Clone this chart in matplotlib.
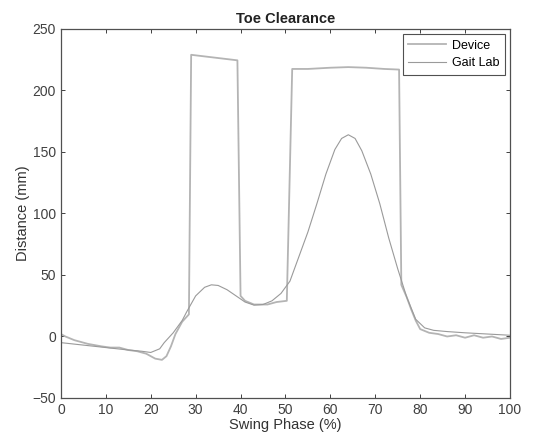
import matplotlib
matplotlib.use("Agg")
import matplotlib.pyplot as plt

# swing phase (%) and toe clearance (mm)
device_x = [0, 1, 3, 6, 9, 11, 13, 15, 17, 19, 20, 21, 22.5, 23.5, 24.5, 25.5, 27, 28.5,
            29, 39.3, 40, 41, 43, 44, 46, 48, 50.3, 51.5, 55, 60, 64, 68, 72, 75.3,
            75.8, 77, 78, 79, 80, 82, 84, 86, 88, 90, 92, 94, 96, 98, 100]
device_y = [2, 0, -3, -6, -8, -9, -9, -11, -12, -14, -16, -18, -19, -16, -8, 2, 12, 18,
            229, 224.5, 33, 29, 26, 26, 26, 28, 29, 217.5, 217.5, 218.5, 219, 218.5, 217.5, 217,
            42, 32, 22, 13, 6, 3, 2, 0, 1, -1, 1, -1, 0, -2, -1]

gait_x = [0, 5, 10, 15, 18, 20, 22, 23, 25, 27, 28, 30, 32, 33.5, 35, 37, 39, 41, 43, 45,
          47, 49, 51, 53, 55, 57, 59, 61, 62.5, 64, 65.5, 67, 69, 71, 73, 75, 77, 79,
          81, 83, 86, 90, 95, 100]
gait_y = [-5, -7, -9, -11, -12, -13, -10, -5, 3, 13, 20, 33, 40, 42, 41.5, 38, 33, 28, 25.5, 26,
          29, 35, 45, 65, 85, 108, 132, 152, 161, 164, 161, 151, 132, 108, 80, 55, 32, 14,
          7, 5, 4, 3, 2, 1]

xticks = list(range(0, 101, 10))
yticks = list(range(-50, 251, 50))

plt.rcParams['font.family'] = ['Liberation Sans', 'DejaVu Sans']
fig = plt.figure(figsize=(5.44, 4.43), dpi=100)
ax = fig.add_axes([0.112, 0.1016, 0.8255, 0.833])

ax.plot(device_x, device_y, color='#b4b4b4', lw=1.3, label='Device')
ax.plot(gait_x, gait_y, color='#9a9a9a', lw=0.8, label='Gait Lab')

ax.set_xlim(0, 100)
ax.set_ylim(-50, 250)
ax.set_xticks(xticks)
ax.set_yticks(yticks)
ax.tick_params(direction='in', length=3, top=True, right=True, labelsize=10,
               colors='#404040', width=0.7)
for s in ax.spines.values():
    s.set_color('#505050')
    s.set_linewidth(0.9)

ax.set_title('Toe Clearance', fontsize=10.5, fontweight='bold', color='#222222', pad=4)
ax.set_xlabel('Swing Phase (%)', fontsize=10.5, color='#333333', labelpad=1)
ax.set_ylabel('Distance (mm)', fontsize=10.5, color='#333333', labelpad=2)

leg = ax.legend(loc='upper right', fontsize=9, handlelength=3.0, fancybox=False,
                framealpha=1, edgecolor='#505050', borderpad=0.45, labelspacing=0.45,
                handletextpad=0.5, borderaxespad=0.4)
leg.get_frame().set_linewidth(0.8)

fig.savefig('out.png', dpi=100)
